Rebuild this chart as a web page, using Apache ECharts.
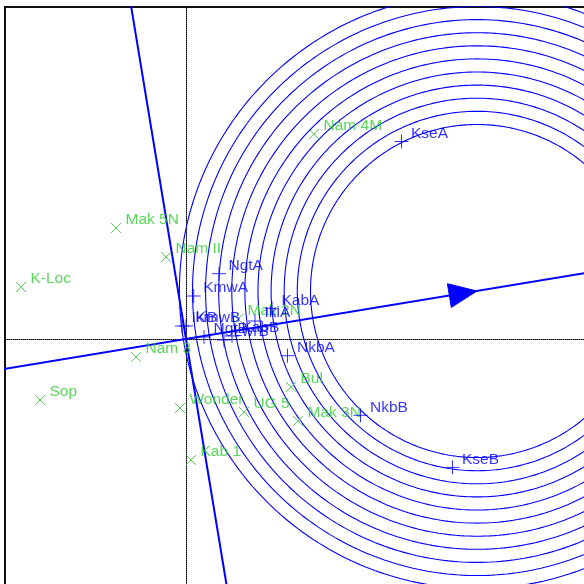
<!DOCTYPE html>
<html>
<head>
<meta charset="utf-8">
<script src="https://cdn.jsdelivr.net/npm/echarts@6/dist/echarts.min.js"></script>
<style>
html,body{margin:0;padding:0;background:#fff;}
#chart{width:584px;height:584px;}
</style>
</head>
<body>
<div id="chart"></div>
<script>
// Genotypes (green ×)
const genotypeNames = ['Nam 4M','Mak 5N','Nam II','K-Loc','Mak 2N','Nam 3','Sop','Wonder','UG 5','Bul','Mak 3N','Kab 1'];
const genotypeX = [1.28, -0.70, -0.20, -1.65, 0.52, -0.50, -1.46, -0.06, 0.58, 1.05, 1.12, 0.05];
const genotypeY = [2.05, 1.11, 0.82, 0.52, 0.20, -0.18, -0.61, -0.69, -0.73, -0.48, -0.82, -1.21];

// Environments (blue +)
const envNames = ['KseA','KseB','NkbB','NkbA','NgtA','KmwA','KabA','IkiA','IkiB','KmwB','NgtB','LwrB','KabB'];
const envX = [2.155, 2.665, 1.745, 1.015, 0.33, 0.077, 0.86, 0.69, -0.04, 0.00, 0.18, 0.38, 0.46];
const envY = [1.975, -1.284, -0.763, -0.167, 0.653, 0.43, 0.306, 0.18, 0.13, 0.13, 0.02, -0.01, 0.03];

// Ideal point (centre of concentric circles, arrow tip on average-environment axis)
const idealPoint = [2.91, 0.48];
const ringRadii = [1.665, 1.797, 1.928, 2.059, 2.19, 2.321, 2.452, 2.583, 2.714, 2.845, 2.976];

const BLUE = '#0000ff';
const GREEN = '#2fcc2f';
const FONT = 'Liberation Sans';

const genoData = genotypeNames.map((n, i) => ({name: n, value: [genotypeX[i], genotypeY[i]]}));
const envData = envNames.map((n, i) => ({name: n, value: [envX[i], envY[i]]}));

const ringSeries = ringRadii.map(r => {
  const pts = [];
  for (let a = 0; a <= 360; a += 1) {
    const t = a * Math.PI / 180;
    pts.push([idealPoint[0] + r * Math.cos(t), idealPoint[1] + r * Math.sin(t)]);
  }
  return {
    type: 'line', data: pts, showSymbol: false, symbol: 'none', silent: true,
    lineStyle: {color: BLUE, width: 1.1}, clip: true, z: 2, animation: false
  };
});

const dx = idealPoint[0], dy = idealPoint[1];
const aeaLine = [[-3 * dx, -3 * dy], [3 * dx, 3 * dy]];
const perpLine = [[2 * dy, -2 * dx], [-2 * dy, 2 * dx]];

const option = {
  animation: false,
  backgroundColor: '#fff',
  grid: {left: 5, top: 7, width: 600, height: 600, outerBoundsMode: 'none', containLabel: false,
    show: true, borderColor: '#111', borderWidth: 2, backgroundColor: 'transparent'},
  xAxis: {
    type: 'value', min: -1.81, max: 4.19,
    axisLine: {show: true, onZero: true, lineStyle: {color: '#000', type: 'dotted', width: 1}},
    axisTick: {show: false}, axisLabel: {show: false}, splitLine: {show: false}
  },
  yAxis: {
    type: 'value', min: -2.68, max: 3.32,
    axisLine: {show: true, onZero: true, lineStyle: {color: '#000', type: 'dotted', width: 1}},
    axisTick: {show: false}, axisLabel: {show: false}, splitLine: {show: false}
  },
  series: [
    ...ringSeries,
    {
      type: 'line', data: aeaLine, showSymbol: false, symbol: 'none', silent: true,
      lineStyle: {color: BLUE, width: 2}, clip: true, z: 3
    },
    {
      type: 'line', data: perpLine, showSymbol: false, symbol: 'none', silent: true,
      lineStyle: {color: BLUE, width: 2}, clip: true, z: 3
    },
    {
      type: 'custom', z: 4, silent: true,
      data: [idealPoint],
      renderItem: function (params, api) {
        const tip = api.coord([api.value(0), api.value(1)]);
        const o = api.coord([0, 0]);
        let ux = tip[0] - o[0], uy = tip[1] - o[1];
        const L = Math.sqrt(ux * ux + uy * uy); ux /= L; uy /= L;
        const len = 28, hw = 12;
        const bx = tip[0] - ux * len, by = tip[1] - uy * len;
        const nx = -uy, ny = ux;
        return {
          type: 'polygon',
          shape: {points: [tip, [bx + nx * hw, by + ny * hw], [bx - nx * hw, by - ny * hw]]},
          style: {fill: BLUE, stroke: BLUE}
        };
      }
    },
    {
      type: 'scatter', data: genoData, z: 5,
      symbol: 'path://M0,0L10,10M10,0L0,10', symbolSize: 10,
      itemStyle: {color: 'none', borderColor: GREEN, borderWidth: 1},
      label: {show: true, position: 'right', distance: 2, offset: [0, -8], formatter: '{b}',
        color: GREEN, fontSize: 15.5, fontFamily: FONT}
    },
    {
      type: 'scatter', data: envData, z: 6,
      symbol: 'path://M0,7L14,7M7,0L7,14', symbolSize: 14,
      itemStyle: {color: 'none', borderColor: BLUE, borderWidth: 1},
      label: {show: true, position: 'right', distance: 0, offset: [0, -8], formatter: '{b}',
        color: BLUE, fontSize: 15.5, fontFamily: FONT}
    }
  ]
};

const chart = echarts.init(document.getElementById('chart'), null, {renderer: 'canvas'});
chart.setOption(option);
</script>
</body>
</html>
